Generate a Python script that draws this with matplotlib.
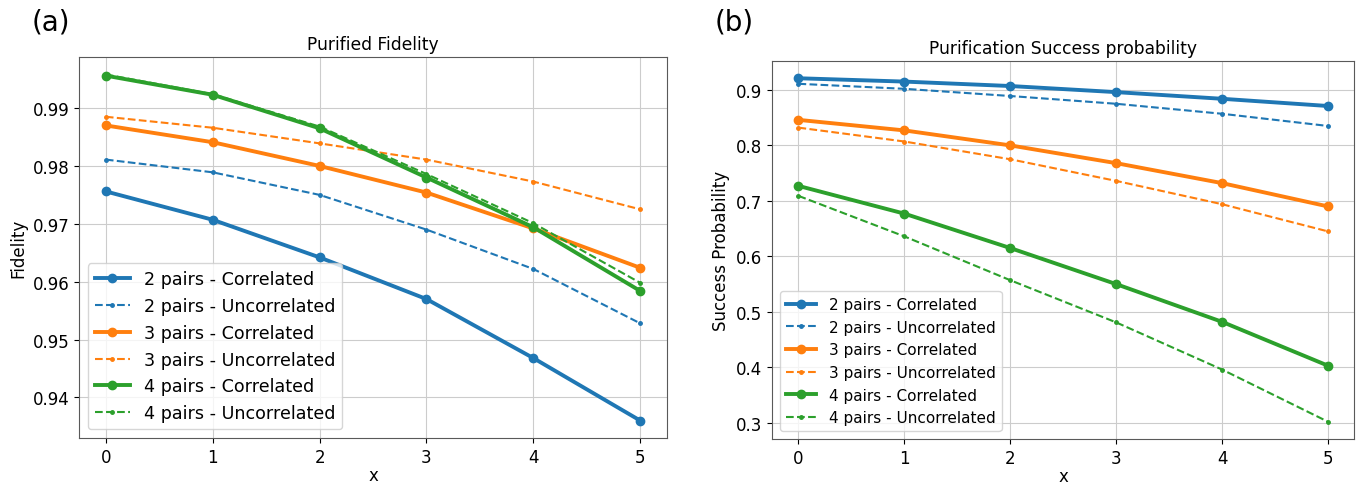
import matplotlib
matplotlib.use("Agg")
import matplotlib.pyplot as plt

x = [0, 1, 2, 3, 4, 5]
pairs = [2, 3, 4]
colors = ["tab:blue", "tab:orange", "tab:green"]

# (a) purified fidelity
fid_corr = [
    [0.9756, 0.9707, 0.9642, 0.9570, 0.9468, 0.9360],
    [0.9870, 0.9841, 0.9800, 0.9754, 0.9692, 0.9624],
    [0.9956, 0.9923, 0.9865, 0.9780, 0.9694, 0.9584],
]
fid_uncorr = [
    [0.9811, 0.9789, 0.9750, 0.9690, 0.9622, 0.9528],
    [0.9885, 0.9866, 0.9839, 0.9811, 0.9773, 0.9725],
    [0.9958, 0.9924, 0.9868, 0.9786, 0.9701, 0.9598],
]

# (b) success probability
prob_corr = [
    [0.921, 0.915, 0.907, 0.896, 0.884, 0.871],
    [0.846, 0.827, 0.800, 0.768, 0.732, 0.690],
    [0.727, 0.677, 0.615, 0.550, 0.482, 0.403],
]
prob_uncorr = [
    [0.911, 0.902, 0.889, 0.875, 0.857, 0.835],
    [0.832, 0.807, 0.775, 0.736, 0.694, 0.645],
    [0.709, 0.636, 0.557, 0.481, 0.396, 0.302],
]

fig = plt.figure(figsize=(13.64, 4.85), dpi=100)
ax1 = fig.add_axes([0.058, 0.095, 0.431, 0.785])
ax2 = fig.add_axes([0.566, 0.093, 0.427, 0.779])


def draw(ax, corr, uncorr, title, ylabel, legend_size):
    for n, c, yc, yu in zip(pairs, colors, corr, uncorr):
        ax.plot(x, yc, "-o", color=c, lw=2.8, ms=6, label=f"{n} pairs - Correlated")
        ax.plot(x, yu, "--.", color=c, lw=1.5, ms=5, label=f"{n} pairs - Uncorrelated")
    ax.set_title(title, fontsize=12.3)
    ax.set_xlabel("x", fontsize=12, labelpad=0)
    ax.set_ylabel(ylabel, fontsize=12)
    ax.tick_params(labelsize=12)
    ax.grid(True, color="0.8")
    for s in ax.spines.values():
        s.set_color("0.35")
    ax.legend(loc="lower left", fontsize=legend_size)


draw(ax1, fid_corr, fid_uncorr, "Purified Fidelity", "Fidelity", 12.6)
draw(ax2, prob_corr, prob_uncorr, "Purification Success probability",
     "Success Probability", 11)

fig.text(0.0235, 0.953, "(a)", fontsize=20, va="center")
fig.text(0.524, 0.953, "(b)", fontsize=20, va="center")

fig.savefig("out.png", dpi=100)
